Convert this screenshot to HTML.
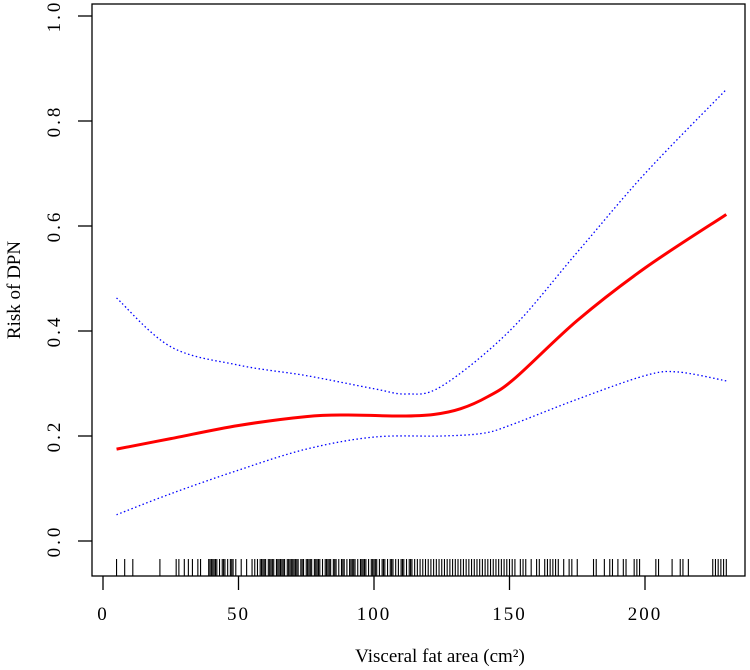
<!DOCTYPE html>
<html><head><meta charset="utf-8"><style>
html,body{margin:0;padding:0;background:#fff;}
svg{display:block;font-family:"Liberation Serif",serif;}
</style></head><body>
<svg id="chart" width="750" height="670" viewBox="0 0 750 670">
<rect x="92" y="4" width="653" height="572" fill="none" stroke="#000" stroke-width="1.3"/>
<g id="axes"></g>
<g id="rug"></g>
<g id="series"></g>
<text x="440" y="662" font-size="19" text-anchor="middle">Visceral fat area (cm²)</text>
<text transform="translate(20,290) rotate(-90)" font-size="19" text-anchor="middle">Risk of DPN</text>
</svg>
<script>
const xTicks=[0,50,100,150,200];
const yTicks=[0,0.2,0.4,0.6,0.8,1.0];
const yTickLabels=["0.0","0.2","0.4","0.6","0.8","1.0"];
const curveX=[5,25,50,75,90,110,122,132,142,152,175,200,230];
const riskFit=[0.175,0.195,0.22,0.237,0.24,0.238,0.241,0.252,0.275,0.31,0.42,0.52,0.622];
const upperX=[5,25,50,75,100,112,125,150,175,200,230];
const upperCI=[0.463,0.37,0.335,0.315,0.29,0.28,0.295,0.40,0.55,0.70,0.86];
const lowerX=[5,25,50,75,100,125,140,150,175,200,212,230];
const lowerCI=[0.05,0.09,0.135,0.175,0.198,0.2,0.205,0.22,0.27,0.315,0.322,0.305];
const rugValues=[5,8,11,21,27,28,30,31.5,33,35,36,39,39.5,40,40.5,41,41.5,42,43,44,44.5,45,46,47,47.5,48,49,51,53,55,56,57,58,58.5,59,59.5,60,61,61.5,62,62.5,63,64,64.5,65,65.5,66,66.5,67,68,68.5,69,69.5,70,70.5,71,71.5,72,73,73.5,74,75,75.5,76,76.5,77,78,78.5,79,79.5,80,81,82,82.5,83,83.5,84,85,85.5,86,87,88,88.5,89,90,91,91.5,92,92.5,93,94,95,95.5,96,96.5,97,98,99,99.5,100,100.5,101,102,103,103.5,104,105,106,106.5,107,108,109,110,110.5,111,112,113,113.5,114,115,116,117,118,119,120,121,122,123,124,125,126,127,128,129,130,131,132,133,134,135,136,137,138,139,140,141,142,143,144,145,146,147,148,149,150,151,152,154,155,156,158,160,161,163,164,165,166,167,168,170,172,173,175,181,182,185,187,188,190,192,193,196,197,198,204,205,210,213,214,216,225,226,227,228,229,230];
const NS="http://www.w3.org/2000/svg";
const xs=v=>103+v*2.71;
const ys=v=>541-v*525;
function mk(t,a,p){const e=document.createElementNS(NS,t);for(const k in a)e.setAttribute(k,a[k]);p.appendChild(e);return e;}
const axes=document.getElementById('axes');
xTicks.forEach(v=>{
 const l=mk('line',{x1:xs(v),x2:xs(v),y1:576,y2:590,stroke:'#000','stroke-width':1.3},axes);
 
 
 const t=mk('text',{x:xs(v),y:620,'font-size':19,'text-anchor':'middle','letter-spacing':'2'},axes);
 t.textContent=String(v);
 
 
});
yTicks.forEach((v,i)=>{
 const l=mk('line',{x1:78,x2:92,y1:ys(v),y2:ys(v),stroke:'#000','stroke-width':1.3},axes);
 
 
 const t=mk('text',{transform:`translate(60,${ys(v)}) rotate(-90)`,'font-size':19,'text-anchor':'middle','letter-spacing':'3'},axes);
 t.textContent=yTickLabels[i];
 
 
});
const rug=document.getElementById('rug');
rugValues.forEach(v=>{
 const l=mk('line',{x1:xs(v),x2:xs(v),y1:559,y2:576,stroke:'#000','stroke-width':1.1},rug);
 
 
});
function path(X,Y){
 const p=X.map((x,i)=>[xs(x),ys(Y[i])]);
 let d=`M${p[0][0]},${p[0][1]}`;
 for(let i=0;i<p.length-1;i++){
  const p0=p[Math.max(0,i-1)],p1=p[i],p2=p[i+1],p3=p[Math.min(p.length-1,i+2)];
  const c1=[p1[0]+(p2[0]-p0[0])/6,p1[1]+(p2[1]-p0[1])/6];
  const c2=[p2[0]-(p3[0]-p1[0])/6,p2[1]-(p3[1]-p1[1])/6];
  d+=` C${c1[0]},${c1[1]} ${c2[0]},${c2[1]} ${p2[0]},${p2[1]}`;
 }
 return d;
}
const ser=document.getElementById('series');
const u=mk('path',{d:path(upperX,upperCI),fill:'none',stroke:'#0000ff','stroke-width':1.3,'stroke-dasharray':'1.5 2.5'},ser);


const lo=mk('path',{d:path(lowerX,lowerCI),fill:'none',stroke:'#0000ff','stroke-width':1.3,'stroke-dasharray':'1.5 2.5'},ser);


const r=mk('path',{d:path(curveX,riskFit),fill:'none',stroke:'#ff0000','stroke-width':3},ser);


</script>
</body></html>
